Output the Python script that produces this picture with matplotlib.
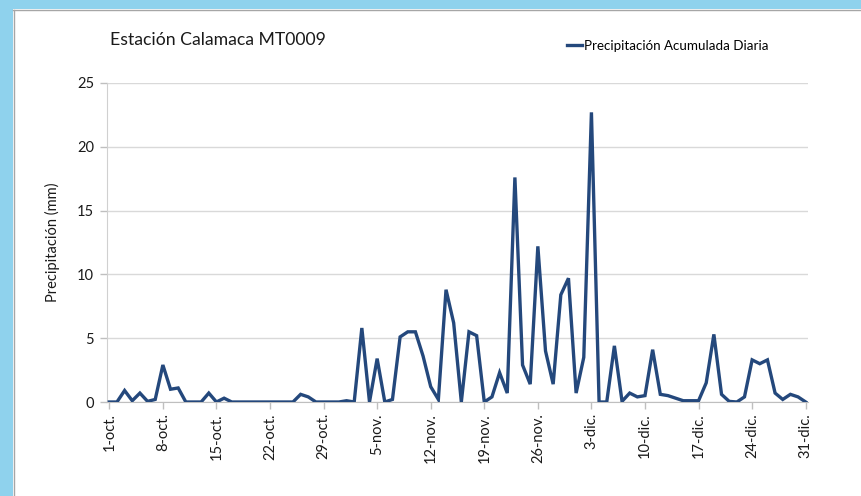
import matplotlib
matplotlib.use("Agg")
import matplotlib.pyplot as plt
from matplotlib.patches import Rectangle
from matplotlib.lines import Line2D

# Daily accumulated precipitation (mm), 1 Oct - 31 Dec
oct_vals = [0, 0, 0.9, 0.1, 0.7, 0.05, 0.2, 2.9, 1.0, 1.1,
            0, 0, 0, 0.7, 0, 0.3, 0, 0, 0, 0,
            0, 0, 0, 0, 0, 0.6, 0.4, 0, 0, 0,
            0]
nov_vals = [0.1, 0, 5.8, 0, 3.4, 0, 0.2, 5.1, 5.5, 5.5,
            3.6, 1.2, 0.2, 8.8, 6.2, 0, 5.5, 5.2, 0, 0.4,
            2.3, 0.7, 17.6, 2.9, 1.4, 12.2, 4.0, 1.4, 8.4, 9.7]
dic_vals = [0.7, 3.5, 22.7, 0, 0, 4.4, 0.05, 0.7, 0.4, 0.5,
            4.1, 0.6, 0.5, 0.3, 0.1, 0.1, 0.1, 1.5, 5.3, 0.6,
            0.05, 0, 0.4, 3.3, 3.0, 3.3, 0.7, 0.2, 0.6, 0.4,
            0]
precip = oct_vals + nov_vals + dic_vals

month_abbr = ["oct."] * len(oct_vals) + ["nov."] * len(nov_vals) + ["dic."] * len(dic_vals)
day_nums = list(range(1, 32)) + list(range(1, 31)) + list(range(1, 32))
day_labels = [f"{d}-{m}" for d, m in zip(day_nums, month_abbr)]

title_text = "Estación Calamaca MT0009"
series_name = "Precipitación Acumulada Diaria"
y_label = "Precipitación (mm)"
y_ticks = [0, 5, 10, 15, 20, 25]

FONT = ["Lato", "DejaVu Sans"]
plt.rcParams["font.family"] = FONT

W, H = 861, 496
fig = plt.figure(figsize=(W / 100, H / 100), dpi=100)
fig.patch.set_facecolor("white")

# light-blue window frame at the top and left edges
fig.add_artist(Rectangle((0, 1 - 9 / H), 1, 9 / H, transform=fig.transFigure,
                         facecolor="#8fd2ed", edgecolor="none", zorder=0))
fig.add_artist(Rectangle((0, 0), 13 / W, 1, transform=fig.transFigure,
                         facecolor="#8fd2ed", edgecolor="none", zorder=0))
fig.add_artist(Line2D([13 / W, 1], [1 - 9.5 / H, 1 - 9.5 / H], transform=fig.transFigure,
                      color="#a6a6a6", lw=1.0))
fig.add_artist(Line2D([13.5 / W, 13.5 / W], [0, 1 - 9.5 / H], transform=fig.transFigure,
                      color="#a6a6a6", lw=1.0))

left_px, right_px, top_px, bottom_px = 106.7, 808, 83, 402
ax = fig.add_axes([left_px / W, 1 - bottom_px / H,
                   (right_px - left_px) / W, (bottom_px - top_px) / H])

x = list(range(len(precip)))
ax.plot(x, precip, color="#24487c", lw=2.4, solid_joinstyle="miter", zorder=3)

ax.set_xlim(-0.34, 91.3)
ax.set_ylim(0, 25)
ax.set_yticks(y_ticks)
ax.yaxis.grid(True, color="#d9d9d9", lw=1.0)
ax.set_axisbelow(True)

tick_idx = list(range(0, len(precip), 7))
ax.set_xticks(tick_idx)
ax.set_xticklabels([day_labels[i] for i in tick_idx], rotation=90, fontsize=10.5,
                   color="#1a1a1a")
ax.tick_params(axis="x", length=5, width=1, color="#bfbfbf", pad=3)
ax.tick_params(axis="y", length=5, width=1, color="#bfbfbf", labelsize=10.5,
               labelcolor="#1a1a1a", pad=4)

for s in ["top", "right"]:
    ax.spines[s].set_visible(False)
ax.spines["left"].set_color("#d0d0d0")
ax.spines["bottom"].set_color("#bfbfbf")

ax.set_ylabel(y_label, fontsize=10.5, color="#1a1a1a", labelpad=12)

fig.text(110 / W, 1 - 40 / H, title_text, fontsize=12.7, color="#1a1a1a",
         va="center", ha="left")

leg = fig.legend([Line2D([0], [0], color="#24487c", lw=2.4)], [series_name],
                 loc="center left", bbox_to_anchor=(567 / W, 1 - 46 / H),
                 frameon=False, fontsize=9.6, handlelength=1.1, handletextpad=0.2,
                 borderpad=0, borderaxespad=0)

fig.savefig("out.png", dpi=100)
